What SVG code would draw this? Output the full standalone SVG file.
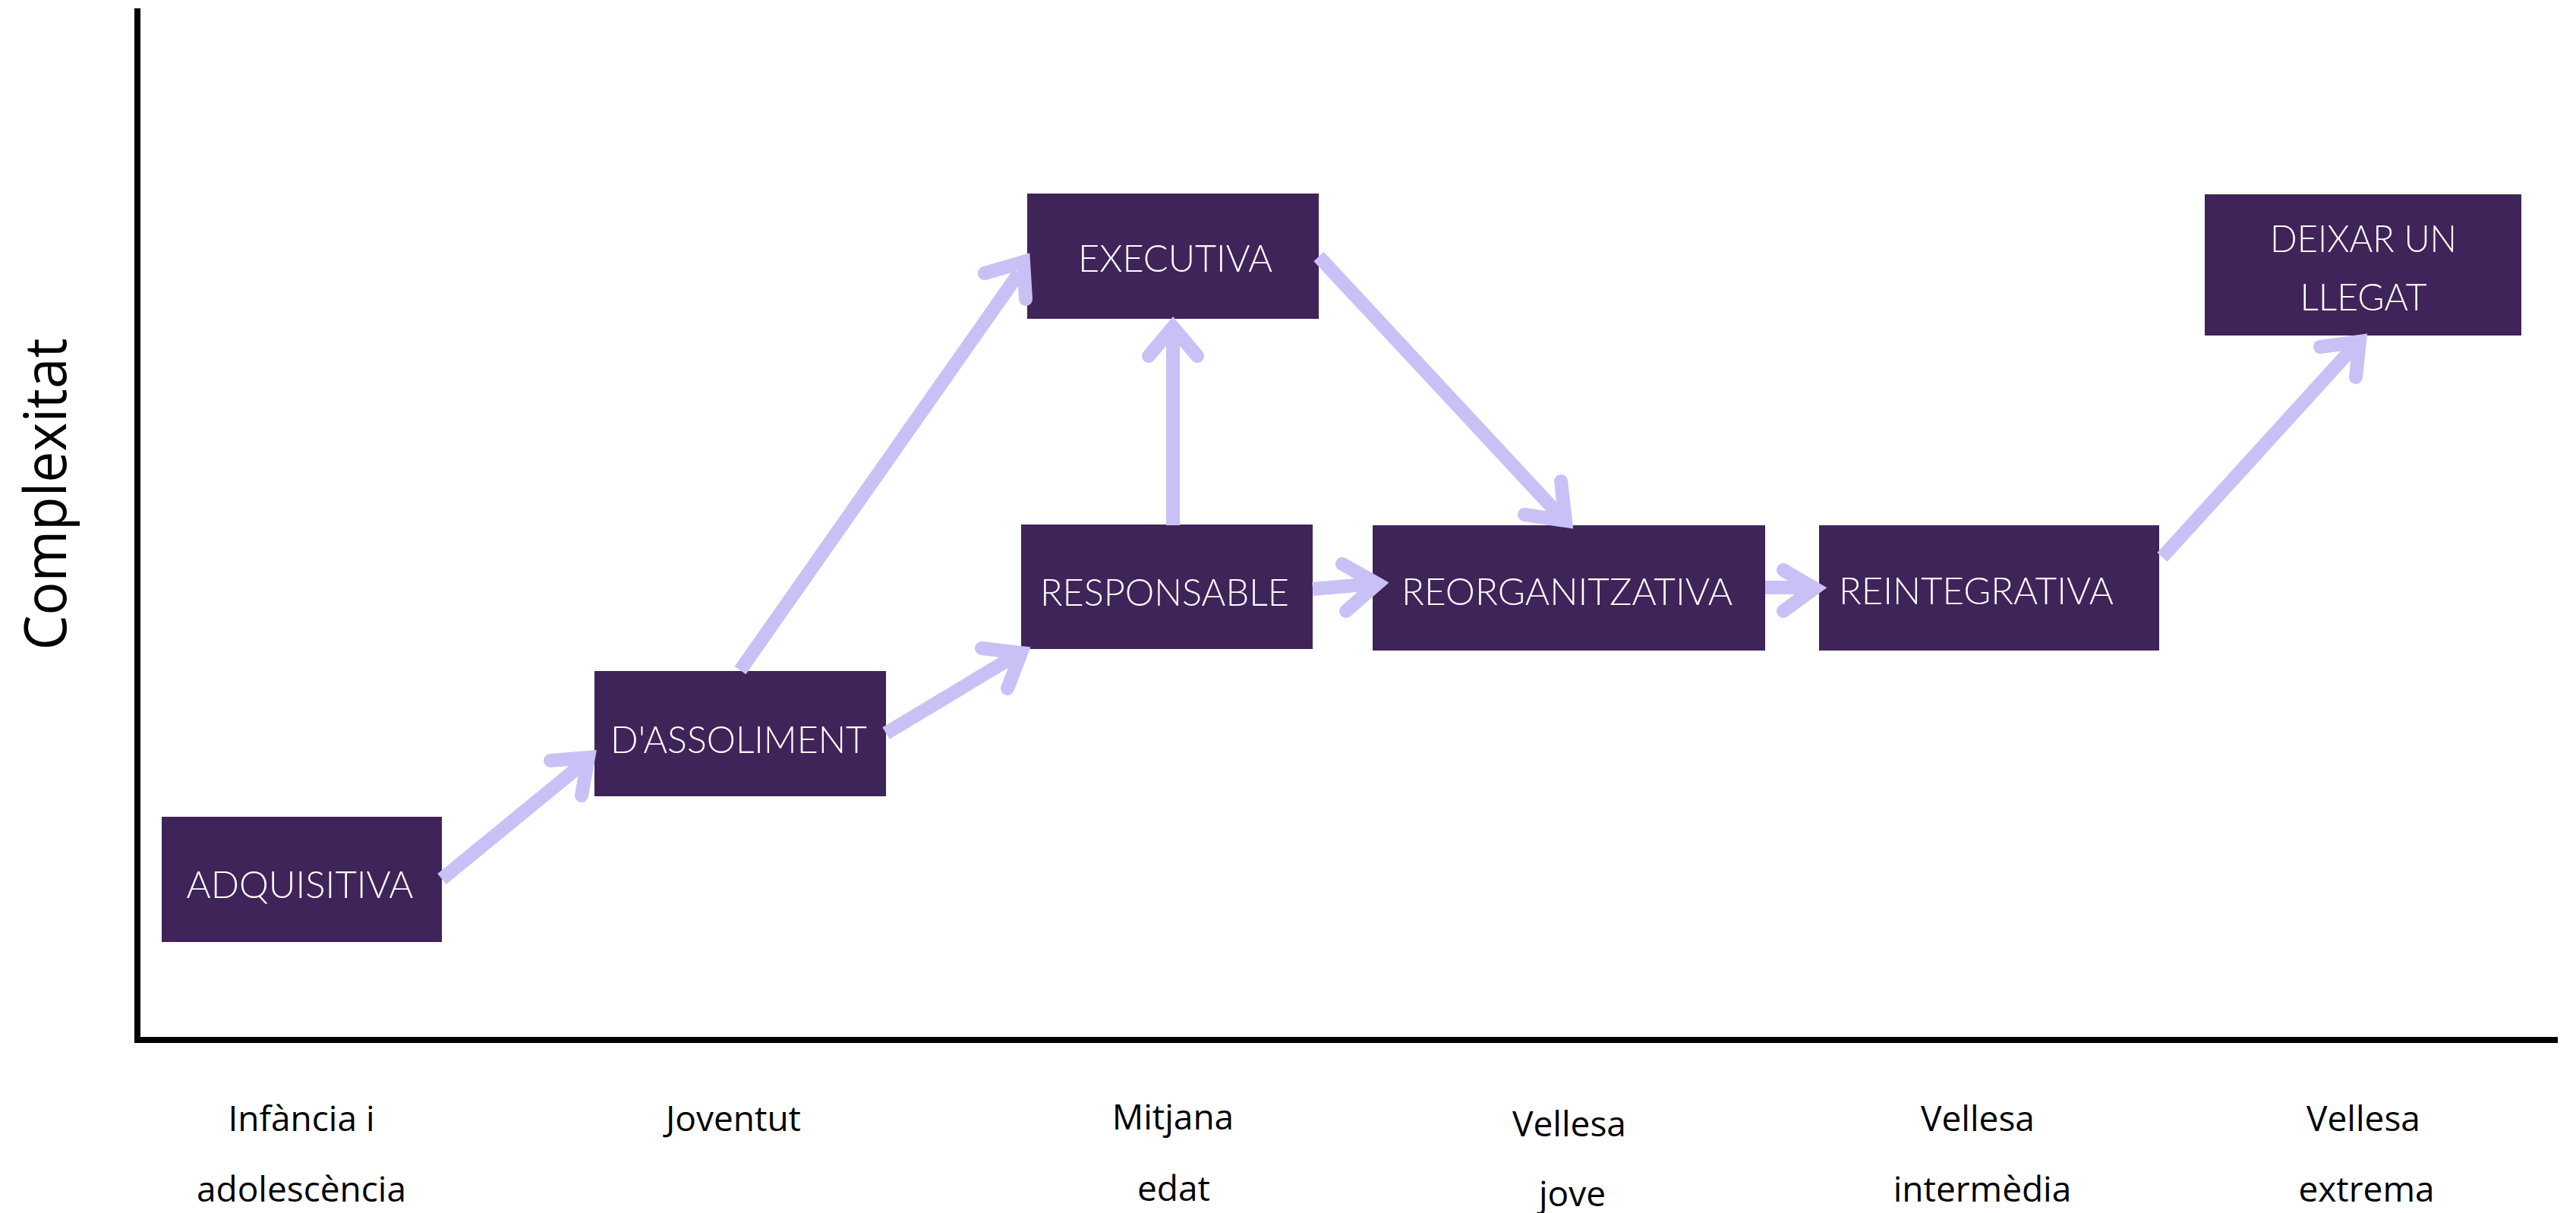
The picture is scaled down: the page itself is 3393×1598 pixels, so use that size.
<svg xmlns="http://www.w3.org/2000/svg" width="3393" height="1598" viewBox="0 0 3393 1598">
<style>
.box{fill:#3F2459}
.lbl{fill:#FFFFFF;font-family:Lato,"Open Sans","Liberation Sans",sans-serif;font-weight:300;font-size:50px;text-anchor:middle}
.ax{fill:#000000;font-family:"Open Sans","Noto Sans","Liberation Sans",sans-serif;font-size:46px;text-anchor:middle}
.ylab{fill:#000000;font-family:"Open Sans","Noto Sans","Liberation Sans",sans-serif;font-size:76px;text-anchor:middle}
.body{fill:none;stroke:#C9C1F6;stroke-width:18;stroke-linecap:butt}
.head{fill:none;stroke:#C9C1F6;stroke-width:18;stroke-linecap:round;stroke-linejoin:miter;stroke-miterlimit:10}
.axis{fill:none;stroke:#000000;stroke-width:8}
</style>
<rect width="3393" height="1598" fill="#FFFFFF"/>
<g id="axes">
<path class="axis" d="M181,11 L181,1370 L3369,1370"/>
<text class="ylab" transform="translate(87,651) rotate(-90)" textLength="411" lengthAdjust="spacingAndGlyphs">Complexitat</text>
<text class="ax" x="397" y="1490">Infància i</text>
<text class="ax" x="397" y="1583">adolescència</text>
<text class="ax" x="966" y="1490">Joventut</text>
<text class="ax" x="1545" y="1488">Mitjana</text>
<text class="ax" x="1546" y="1582">edat</text>
<text class="ax" x="2067" y="1497">Vellesa</text>
<text class="ax" x="2071" y="1589">jove</text>
<text class="ax" x="2605" y="1490">Vellesa</text>
<text class="ax" x="2611" y="1583">intermèdia</text>
<text class="ax" x="3113" y="1490">Vellesa</text>
<text class="ax" x="3117" y="1583">extrema</text>
</g>
<g id="node-adquisitiva">
<rect class="box" x="213" y="1076" width="369" height="165"/>
<text class="lbl" x="395" y="1183" textLength="299" lengthAdjust="spacingAndGlyphs">ADQUISITIVA</text>
</g>
<g id="node-dassoliment">
<rect class="box" x="783" y="884" width="384" height="165"/>
<text class="lbl" x="973" y="992" textLength="338" lengthAdjust="spacingAndGlyphs">D'ASSOLIMENT</text>
</g>
<g id="node-executiva">
<rect class="box" x="1353" y="255" width="384" height="165"/>
<text class="lbl" x="1548" y="358" textLength="256" lengthAdjust="spacingAndGlyphs">EXECUTIVA</text>
</g>
<g id="node-responsable">
<rect class="box" x="1345" y="691" width="384" height="164"/>
<text class="lbl" x="1534" y="798" textLength="328" lengthAdjust="spacingAndGlyphs">RESPONSABLE</text>
</g>
<g id="node-reorganitzativa">
<rect class="box" x="1808" y="692" width="517" height="165"/>
<text class="lbl" x="2064" y="797" textLength="436" lengthAdjust="spacingAndGlyphs">REORGANITZATIVA</text>
</g>
<g id="node-reintegrativa">
<rect class="box" x="2396" y="692" width="448" height="165"/>
<text class="lbl" x="2603" y="796" textLength="362" lengthAdjust="spacingAndGlyphs">REINTEGRATIVA</text>
</g>
<g id="node-deixar">
<rect class="box" x="2904" y="256" width="417" height="186"/>
<text class="lbl" x="3113" y="332" textLength="246" lengthAdjust="spacingAndGlyphs">DEIXAR UN</text>
<text class="lbl" x="3113" y="409" textLength="167" lengthAdjust="spacingAndGlyphs">LLEGAT</text>
</g>
<g id="connectors">
<path class="body" d="M582,1158 L770,1004"/>
<path class="head" d="M725,1002 L775,998 L766,1048"/>
<path class="body" d="M975,883 L1342,360"/>
<path class="head" d="M1297,360 L1348,345 L1351,394"/>
<path class="body" d="M1167,966 L1340,862"/>
<path class="head" d="M1293,854 L1345,860 L1327,907"/>
<path class="body" d="M1545,692 L1545,432"/>
<path class="head" d="M1513,469 L1545,431 L1577,469"/>
<path class="body" d="M1737,338 L2057,682"/>
<path class="head" d="M2056,634 L2062,686 L2008,678"/>
<path class="body" d="M1729,776 L1810,769"/>
<path class="head" d="M1768,743 L1814,769 L1773,805"/>
<path class="body" d="M2325,774 L2388,774"/>
<path class="head" d="M2349,751 L2390,775 L2349,805"/>
<path class="body" d="M2848,734 L3102,455"/>
<path class="head" d="M3056,457 L3108,450 L3103,497"/>
</g>
</svg>
